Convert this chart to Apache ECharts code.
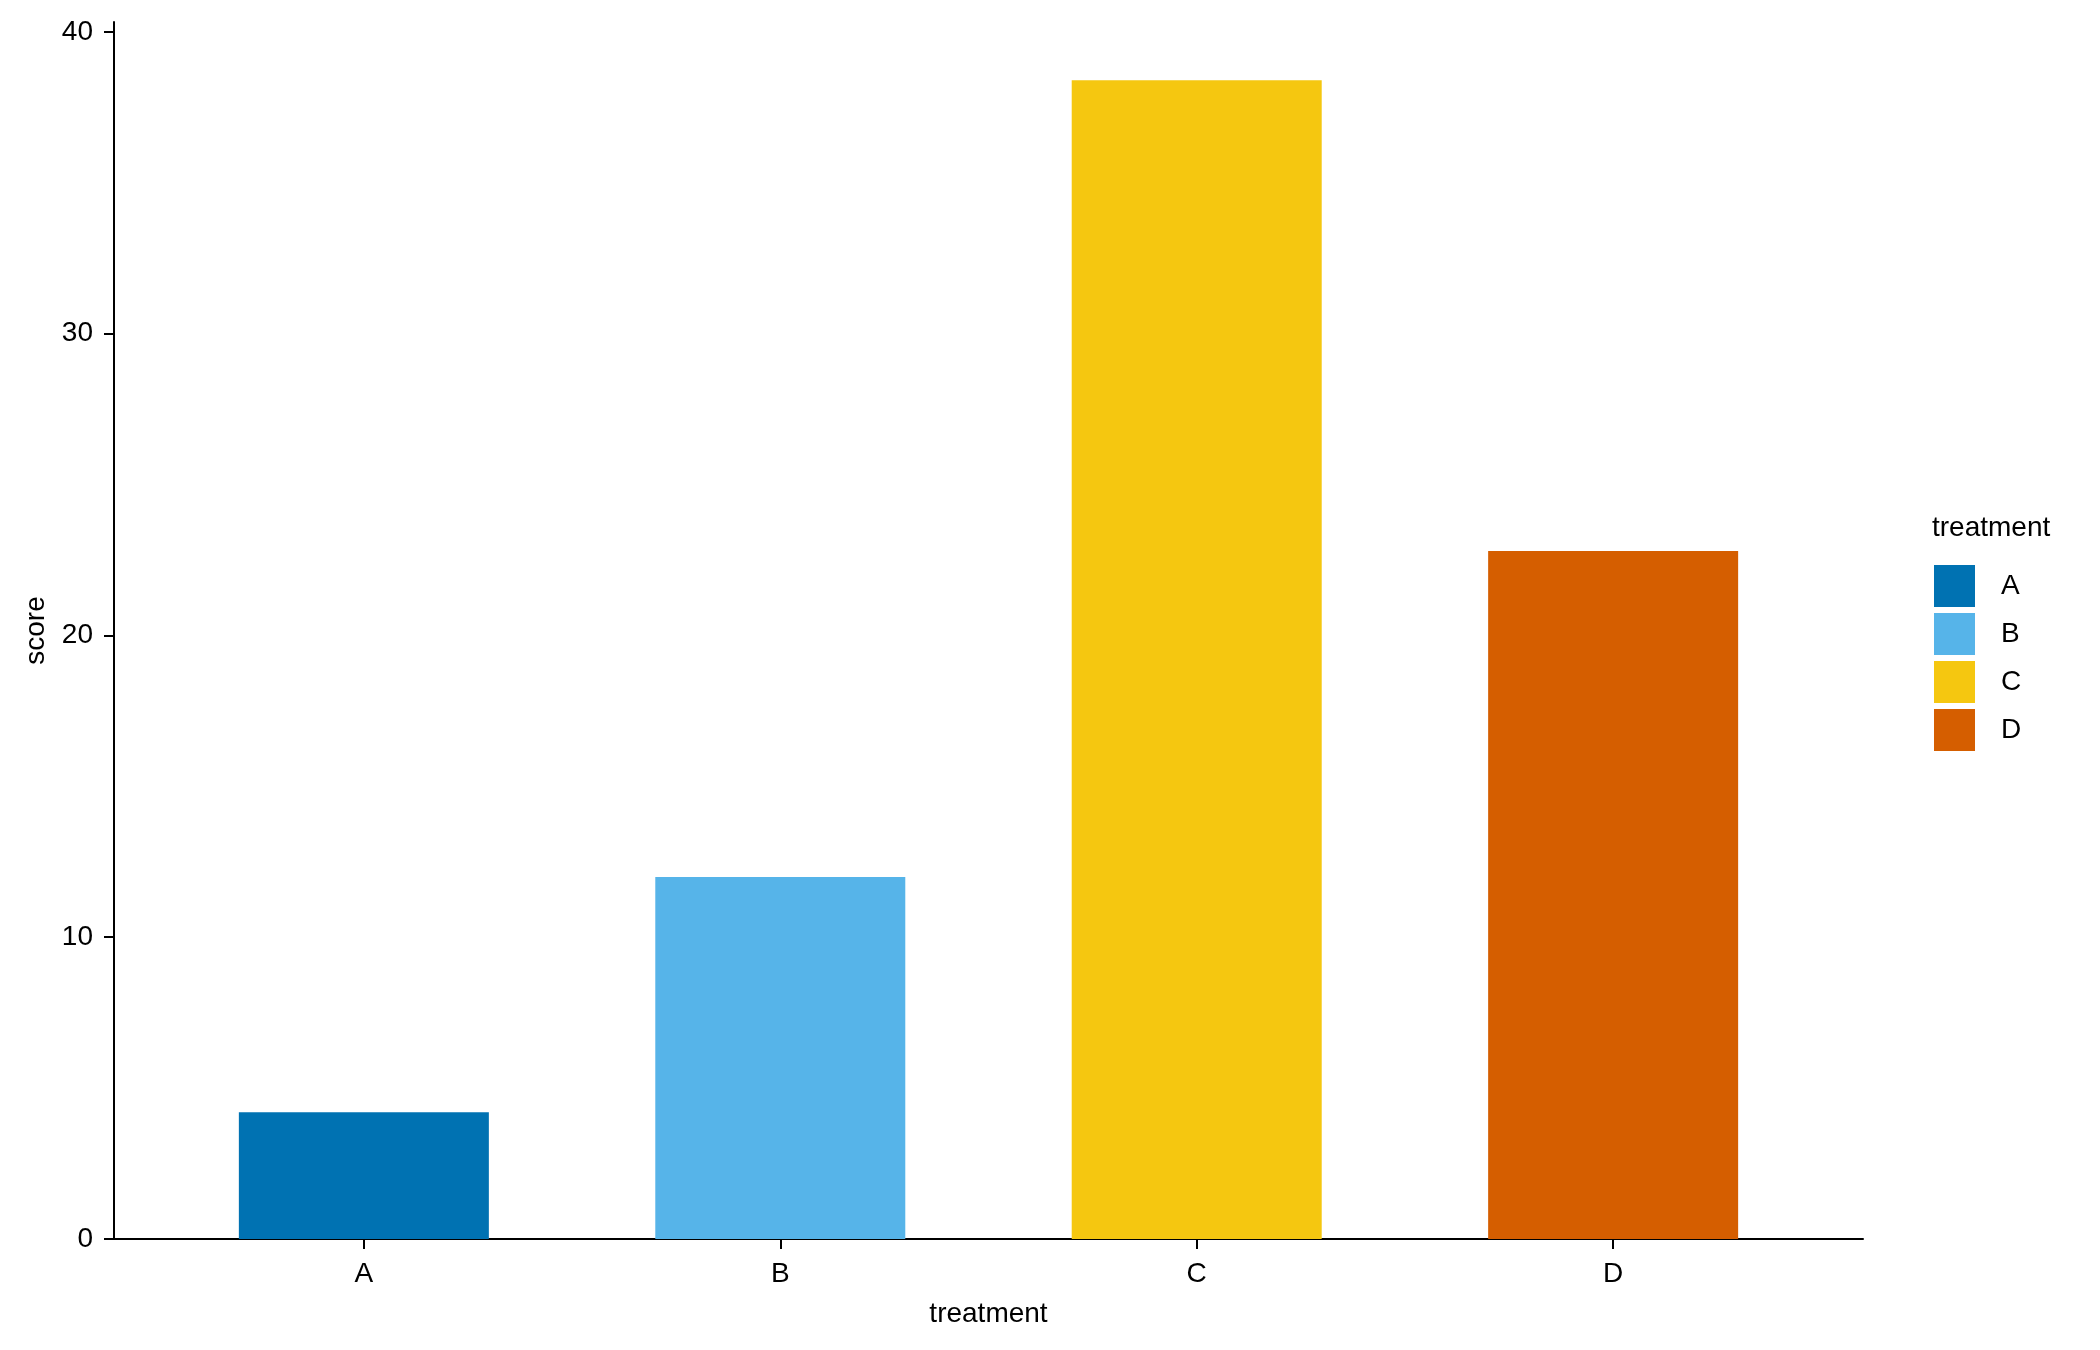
<!DOCTYPE html>
<html>
<head>
<meta charset="utf-8">
<script src="https://cdn.jsdelivr.net/npm/echarts@6/dist/echarts.min.js"></script>
<style>
  html, body { margin: 0; padding: 0; background: #fff; }
  #chart { width: 2100px; height: 1350px; }
</style>
</head>
<body>
<div id="chart"></div>
<script>
// data
var treatments = ['A', 'B', 'C', 'D'];
var scores = [4.2, 12.0, 38.4, 22.8];
var barColors = ['#0072B2', '#56B4E9', '#F5C710', '#D55E00'];
var yTicks = [0, 10, 20, 30, 40];
var xPositions = [1, 2, 3, 4];

var font = 'Liberation Sans, Arial, sans-serif';
var chart = echarts.init(document.getElementById('chart'));

var series = treatments.map(function (t, i) {
  return {
    name: t,
    type: 'bar',
    barWidth: 250,
    barGap: '-100%',
    itemStyle: { color: barColors[i] },
    data: [[xPositions[i], scores[i]]]
  };
});

var option = {
  animation: false,
  textStyle: { fontFamily: font },
  title: {
    text: 'treatment',
    left: 1932,
    top: 514,
    padding: 0,
    textStyle: { fontFamily: font, fontSize: 28, fontWeight: 'normal', color: '#000' }
  },
  legend: {
    orient: 'vertical',
    left: 1934,
    top: 565,
    itemWidth: 41,
    itemHeight: 42,
    itemGap: 6,
    padding: 0,
    icon: 'rect',
    data: treatments,
    textStyle: { fontFamily: font, fontSize: 28, color: '#000', padding: [0, 0, 0, 21] }
  },
  grid: { left: 114, right: 237, top: 22, bottom: 111, containLabel: false },
  xAxis: {
    type: 'value',
    min: 0.4,
    max: 4.6,
    name: 'treatment',
    nameLocation: 'middle',
    nameGap: 61,
    nameTextStyle: { fontFamily: font, fontSize: 28, color: '#000' },
    splitLine: { show: false },
    axisLine: { show: true, lineStyle: { color: '#000', width: 2 } },
    axisTick: { show: true, length: 10, customValues: xPositions, lineStyle: { color: '#000', width: 2 } },
    axisLabel: {
      customValues: xPositions,
      margin: 21,
      fontSize: 28,
      color: '#000',
      formatter: function (v) { return treatments[Math.round(v) - 1]; }
    }
  },
  yAxis: {
    type: 'value',
    min: 0,
    max: 40.33,
    name: 'score',
    nameLocation: 'middle',
    nameGap: 64,
    nameTextStyle: { fontFamily: font, fontSize: 28, color: '#000' },
    splitLine: { show: false },
    axisLine: { show: true, lineStyle: { color: '#000', width: 2 } },
    axisTick: { show: true, length: 10, customValues: yTicks, lineStyle: { color: '#000', width: 2 } },
    axisLabel: { customValues: yTicks, margin: 21, fontSize: 28, color: '#000' }
  },
  series: series
};

chart.setOption(option);
</script>
</body>
</html>
